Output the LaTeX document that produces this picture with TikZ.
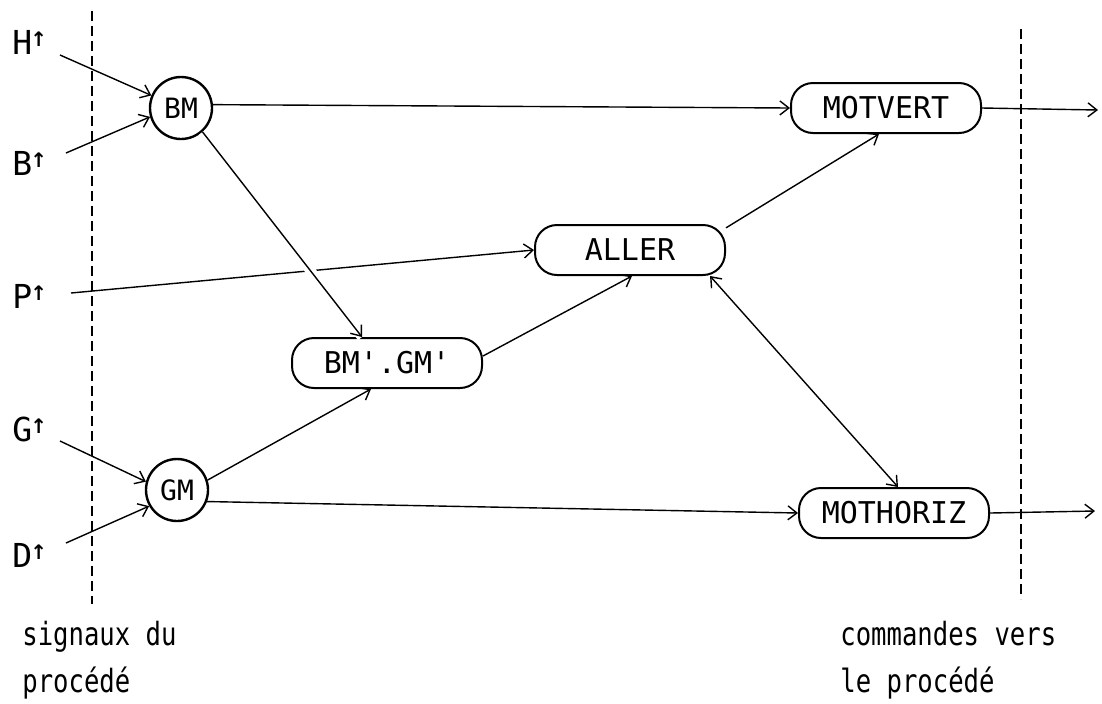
\documentclass[tikz,border=0pt]{standalone}
\usepackage{fontspec}
\newfontfamily\tw{DejaVu Sans Mono}
\newfontfamily\twc[FakeStretch=0.8]{DejaVu Sans Mono}
\newfontfamily\djsans{DejaVu Sans Bold}
\usetikzlibrary{arrows.meta,calc}
\newcommand{\upsig}{\kern-1pt\raisebox{4pt}{\djsans\fontsize{10}{10}\selectfont ↑}}
\begin{document}
\begin{tikzpicture}[x=0.5pt,y=-0.5pt,
  conn/.style={line width=0.7pt,-{Straight Barb[length=4.5pt,width=7pt]}},
  state/.style={draw,line width=1.2pt,circle,minimum size=31pt,inner sep=0pt,
    font=\tw\fontsize{14}{16}\selectfont},
  act/.style={draw,line width=1pt,rounded corners=11pt,minimum width=95pt,
    minimum height=25pt,inner sep=0pt,font=\tw\fontsize{15}{18}\selectfont},
  sig/.style={font=\tw\fontsize{16.5}{18}\selectfont,inner sep=0pt,anchor=base west},
  bottomtext/.style={font=\twc\fontsize{16}{23.5}\selectfont,align=left,
    inner sep=0pt,anchor=base west},
  border/.style={line width=1.1pt,dash pattern=on 5pt off 2.5pt},
  gap/.style={preaction={draw,white,line width=5pt,-}}]
\useasboundingbox (0,0) rectangle (1102,703);

% boundaries
\coordinate (L1) at (92,11);  \coordinate (L2) at (92,604);
\coordinate (R1) at (1021,29); \coordinate (R2) at (1021,599);
\draw[border] (L1) -- (L2);
\draw[border] (R1) -- (R2);

% input signals
\node[sig] (H) at (12,54) {H\upsig};
\node[sig] (B) at (12,175) {B\upsig};
\node[sig] (P) at (12,308) {P\upsig};
\node[sig] (G) at (12,441) {G\upsig};
\node[sig] (D) at (12,567) {D\upsig};
\coordinate (Hs) at (60,55);
\coordinate (Bs) at (66,153);
\coordinate (Ps) at (71,293);
\coordinate (Gs) at (60,441);
\coordinate (Ds) at (66,543);

% states and actions
\node[state] (BM) at (181,108) {BM};
\node[state] (GM) at (177,490) {GM};
\node[act] (MOTVERT) at (886,108) {MOTVERT};
\node[act] (ALLER) at (630,250) {ALLER};
\node[act] (BMGM) at (387,363) {BM'.GM'};
\node[act] (MOTHORIZ) at (894,513) {MOTHORIZ};

\coordinate (Vout) at (1098,110);
\coordinate (Hout) at (1095,511);

% connectors
\draw[conn] (Hs) -- (BM.157);
\draw[conn] (Bs) -- (BM.196);
\draw[conn] (Gs) -- (GM.165);
\draw[conn] (Ds) -- (GM.210);
\draw[conn] (BM.6) -- (MOTVERT.west);
\draw[conn] (Ps) -- (ALLER.west);
\draw[conn,gap] (BM.-48) -- ([xshift=-12.5pt]BMGM.north);
\draw[conn] (GM.18) -- ([xshift=-8pt]BMGM.south);
\draw[conn] (GM.-21) -- (MOTHORIZ.west);
\draw[conn] ([yshift=3.5pt]BMGM.east) -- ([xshift=1pt]ALLER.south);
\draw[conn] (ALLER.13) -- ([xshift=-3.5pt]MOTVERT.south);
\draw[line width=0.7pt,{Straight Barb[length=4.5pt,width=7pt]}-{Straight Barb[length=4.5pt,width=7pt]}]
  (ALLER.-18) -- ([xshift=2pt]MOTHORIZ.north);
\draw[conn] (MOTVERT.east) -- (Vout);
\draw[conn] (MOTHORIZ.east) -- (Hout);

% bottom captions
\node[bottomtext] (cap1) at (22,692) {signaux du\\procédé};
\node[bottomtext] (cap2) at (840,692) {commandes vers\\le procédé};
\end{tikzpicture}
\end{document}
